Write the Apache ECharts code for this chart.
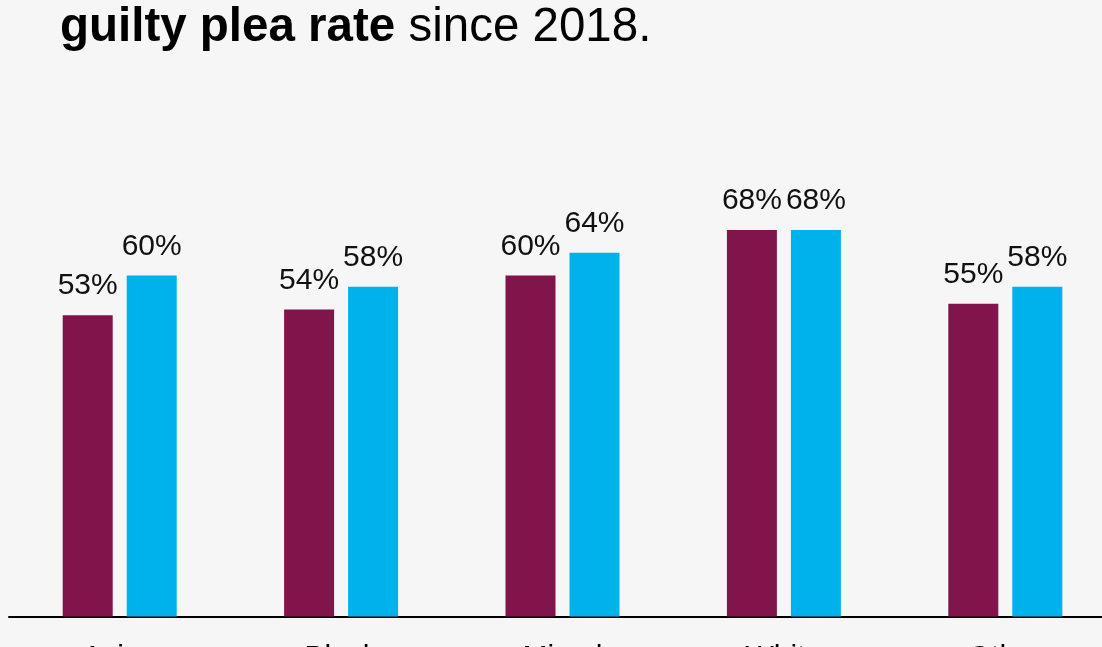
<!DOCTYPE html>
<html>
<head>
<meta charset="utf-8">
<script src="https://cdn.jsdelivr.net/npm/echarts@6/dist/echarts.min.js"></script>
<style>
  html, body { margin: 0; padding: 0; background: #f6f6f6; }
  #root { width: 1102px; height: 647px; }
</style>
</head>
<body>
<div id="root"></div>
<script>
  // values (percent)
  const categories = ["Asian", "Black", "Mixed", "White", "Other"];
  const rateBefore = [53, 54, 60, 68, 55];
  const rateAfter = [60, 58, 64, 68, 58];

  const font = "'Liberation Sans', Arial, sans-serif";

  const myChart = echarts.init(document.getElementById("root"));
  const labelStyle = {
    show: true,
    position: "top",
    distance: 14,
    formatter: "{c}%",
    fontSize: 30,
    fontFamily: font,
    color: "#111",
  };

  const option = {
    backgroundColor: "#f6f6f6",
    animation: false,
    title: {
      text: "{b|guilty plea rate} since 2018.",
      left: 60,
      top: 4,
      padding: 0,
      textStyle: {
        fontSize: 47.5,
        fontWeight: "normal",
        fontFamily: font,
        color: "#000",
        lineHeight: 48,
        rich: {
          b: { fontSize: 47.5, fontWeight: "bold", fontFamily: font, color: "#000", lineHeight: 48 },
        },
      },
    },
    grid: {
      left: 9,
      top: 48,
      width: 1107,
      height: 568.5,
      containLabel: false,
      outerBoundsMode: "none",
    },
    xAxis: {
      type: "category",
      data: categories,
      axisLine: { lineStyle: { color: "#000", width: 2 } },
      axisTick: { show: false },
      axisLabel: { fontSize: 30, fontFamily: font, color: "#000", margin: 26 },
    },
    yAxis: {
      type: "value",
      min: 0,
      max: 100,
      show: false,
      splitLine: { show: false },
    },
    series: [
      {
        name: "Before",
        type: "bar",
        data: rateBefore,
        barWidth: 50,
        barGap: "28%",
        itemStyle: { color: "#7f154b" },
        label: labelStyle,
      },
      {
        name: "After",
        type: "bar",
        data: rateAfter,
        barWidth: 50,
        itemStyle: { color: "#00b2eb" },
        label: labelStyle,
      },
    ],
  };
  myChart.setOption(option);
</script>
</body>
</html>
